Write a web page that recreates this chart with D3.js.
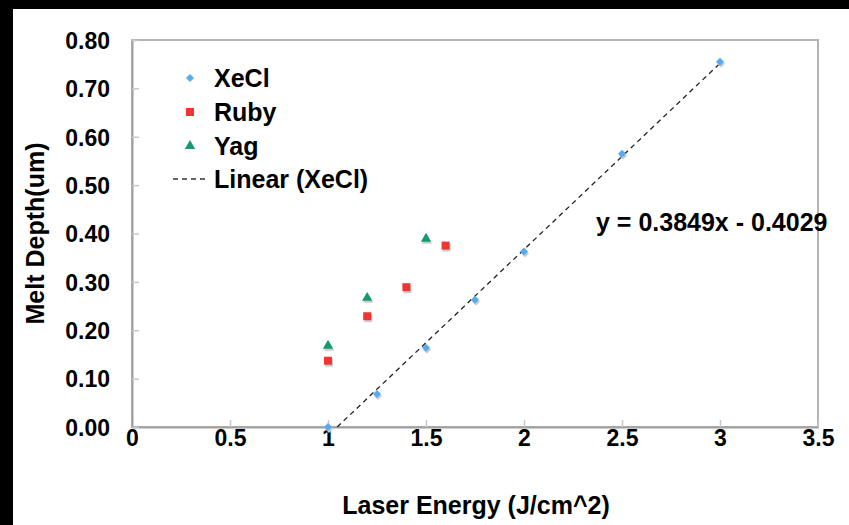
<!DOCTYPE html>
<html>
<head>
<meta charset="utf-8">
<script src="https://d3js.org/d3.v7.min.js"></script>
<style>
  body { margin: 0; background: #000; }
  svg { display: block; font-family: "Liberation Sans", Arial, sans-serif; font-weight: bold; }
</style>
</head>
<body>
<svg width="849" height="525"></svg>
<script>
"use strict";

// data
const xecl = [[1, 0], [1.25, 0.068], [1.5, 0.164], [1.75, 0.263], [2, 0.363], [2.5, 0.565], [3, 0.755]];
const ruby = [[1, 0.137], [1.2, 0.229], [1.4, 0.289], [1.6, 0.375]];
const yag = [[1, 0.168], [1.2, 0.267], [1.5, 0.389]];
const slope = 0.3849, intercept = -0.4029;
const xTicks = [0, 0.5, 1, 1.5, 2, 2.5, 3, 3.5];
const yTicks = [0, 0.1, 0.2, 0.3, 0.4, 0.5, 0.6, 0.7, 0.8];

const svg = d3.select("svg");
const W = +svg.attr("width"), H = +svg.attr("height");
const Padding = {TOP: 40, LEFT: 132, RIGHT: 31, BOTTOM: 98};

// white page with black frame on top/left
svg.append("rect").attr("x", 13).attr("y", 9).attr("width", W - 13).attr("height", H - 9).attr("fill", "#fff");

const x = d3.scaleLinear().domain([0, 3.5]).range([Padding.LEFT, W - Padding.RIGHT]);
const y = d3.scaleLinear().domain([0, 0.8]).range([H - Padding.BOTTOM, Padding.TOP]);

// plot border
svg.append("rect")
    .attr("x", x(0)).attr("y", y(0.8))
    .attr("width", x(3.5) - x(0)).attr("height", y(0) - y(0.8))
    .attr("fill", "none").attr("stroke", "#b4b4b4").attr("stroke-width", 2);

// inside ticks
const xAxis = svg.append("g")
    .attr("transform", `translate(0, ${y(0)})`)
    .call(d3.axisBottom(x).tickValues(xTicks).tickSizeInner(-7).tickSizeOuter(0).tickPadding(3)
        .tickFormat(d => d));
const yAxis = svg.append("g")
    .attr("transform", `translate(${x(0)}, 0)`)
    .call(d3.axisLeft(y).tickValues(yTicks).tickSizeInner(-7).tickSizeOuter(0).tickPadding(22)
        .tickFormat(d3.format(".2f")));
[xAxis, yAxis].forEach(g => {
    g.select(".domain").attr("stroke", "#a0a0a0").attr("stroke-width", 2);
    g.selectAll(".tick line").attr("stroke", "#c8c8c8").attr("stroke-width", 1.5);
    g.selectAll(".tick text").attr("fill", "#000").attr("font-size", 23)
        .attr("font-family", "Liberation Sans, Arial, sans-serif").attr("font-weight", "bold");
});
xAxis.selectAll(".tick text").attr("dy", "0.71em");
yAxis.selectAll(".tick text").attr("dy", "0.36em");

// axis titles
svg.append("text")
    .attr("x", (x(0) + x(3.5)) / 2 + 1).attr("y", 514)
    .attr("text-anchor", "middle").attr("font-size", 25)
    .text("Laser Energy (J/cm^2)");
svg.append("text")
    .attr("transform", `translate(44, ${(y(0) + y(0.8)) / 2}) rotate(-90)`)
    .attr("text-anchor", "middle").attr("font-size", 25)
    .text("Melt Depth(um)");

// trend line
const x0 = -intercept / slope;
svg.append("path")
    .datum([x0, 3])
    .attr("fill", "none").attr("stroke", "#222").attr("stroke-width", 1.3)
    .attr("stroke-dasharray", "5,4")
    .attr("d", d3.line().x(d => x(d)).y(d => y(slope * d + intercept)));

// markers
const series = [
    {name: "XeCl", data: xecl, color: "#55aaf0", symbol: d3.symbolSquare, size: 32, rot: 45},
    {name: "Ruby", data: ruby, color: "#f03434", symbol: d3.symbolSquare, size: 64, rot: 0},
    {name: "Yag", data: yag, color: "#149a72", symbol: d3.symbolTriangle, size: 46, rot: 0}
];
series.forEach(s => {
    const sym = d3.symbol().type(s.symbol).size(s.size);
    svg.append("g").selectAll("path.shadow")
        .data(s.data).enter().append("path")
        .attr("transform", d => `translate(${x(d[0]) + 1}, ${y(d[1]) + 2}) rotate(${s.rot})`)
        .attr("d", sym).attr("fill", "#ccc");
    svg.append("g").selectAll("path.pt")
        .data(s.data).enter().append("path")
        .attr("transform", d => `translate(${x(d[0])}, ${y(d[1])}) rotate(${s.rot})`)
        .attr("d", sym).attr("fill", s.color);
});

// legend
const legend = svg.append("g");
const rows = [78, 112, 146, 179];
series.forEach((s, i) => {
    legend.append("path")
        .attr("transform", `translate(190, ${rows[i]}) rotate(${s.rot})`)
        .attr("d", d3.symbol().type(s.symbol).size(s.size)).attr("fill", s.color);
    legend.append("text").attr("x", 214).attr("y", rows[i]).attr("dy", "0.36em")
        .attr("font-size", 25).text(s.name);
});
legend.append("line")
    .attr("x1", 173).attr("x2", 208).attr("y1", rows[3]).attr("y2", rows[3])
    .attr("stroke", "#333").attr("stroke-width", 1.3).attr("stroke-dasharray", "5,4");
legend.append("text").attr("x", 214).attr("y", rows[3]).attr("dy", "0.36em")
    .attr("font-size", 25).text("Linear (XeCl)");

// equation
svg.append("text")
    .attr("x", 596).attr("y", 222).attr("dy", "0.36em")
    .attr("font-size", 25)
    .text(`y = ${slope}x - ${Math.abs(intercept)}`);
</script>
</body>
</html>
